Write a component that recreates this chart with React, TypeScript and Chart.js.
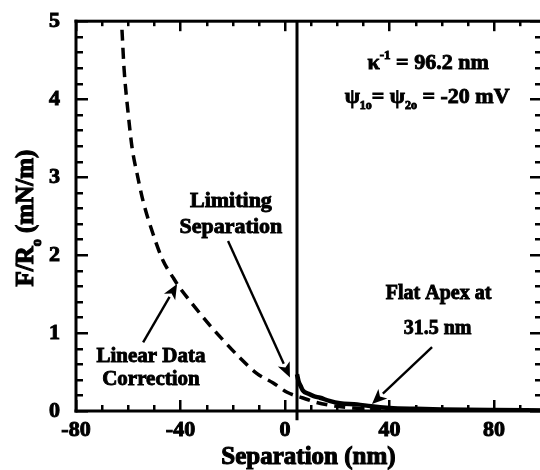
import { useEffect, useRef } from "react";
import { Chart, registerables } from "chart.js";

Chart.register(...registerables);

// Axis tick labels
const xTickValues = [-80, -40, 0, 40, 80];
const yTickValues = [0, 1, 2, 3, 4, 5];

// Hard-wall contact: vertical rise at the limiting separation
const wallX = [4.6, 4.6];
const wallY = [5, -0.12];

// Measured force profile after the contact (solid)
const theoryX = [4.6, 5.2, 6, 6.9, 9, 11, 13.4, 17, 21, 27.6, 33, 40, 50, 60, 80, 98];
const theoryY = [0.47, 0.38, 0.32, 0.26, 0.22, 0.19, 0.17, 0.13, 0.1, 0.085, 0.06, 0.04, 0.028, 0.02, 0.012, 0.008];

// Linear data correction (dashed)
const correctedX = [-62.4, -61.6, -60.1, -58.5, -56.6, -54.3, -50.5, -46.7, -42.8, -40.9, -35.6, -29.8, -23.7, -17.2, -10.7, -4.5, 0.8, 6.6, 12, 20, 30, 45, 70, 98];
const correctedY = [4.89, 4.39, 3.84, 3.37, 3.04, 2.69, 2.27, 1.93, 1.71, 1.61, 1.38, 1.14, 0.91, 0.68, 0.48, 0.36, 0.24, 0.17, 0.11, 0.06, 0.03, 0.015, 0.008, 0.005];

// Minor tick spacing on each axis
const xMinorStep = 10;
const yMinorStep = 0.2;

const SERIF = '"Liberation Serif", "Times New Roman", serif';
const font = (size: number) => `bold ${size}px ${SERIF}`;

type Part = { t: string; size: number; dy?: number };

function drawRich(ctx: CanvasRenderingContext2D, parts: Part[], cx: number, cy: number) {
  let total = 0;
  for (const p of parts) {
    ctx.font = font(p.size);
    total += ctx.measureText(p.t).width;
  }
  let x = cx - total / 2;
  ctx.textAlign = "left";
  ctx.textBaseline = "middle";
  for (const p of parts) {
    ctx.font = font(p.size);
    ctx.fillText(p.t, x, cy + (p.dy || 0));
    ctx.strokeText(p.t, x, cy + (p.dy || 0));
    x += ctx.measureText(p.t).width;
  }
}

function drawArrow(ctx: CanvasRenderingContext2D, x1: number, y1: number, x2: number, y2: number) {
  const ang = Math.atan2(y2 - y1, x2 - x1);
  const head = 15;
  const half = 6.5;
  const bx = x2 - head * Math.cos(ang);
  const by = y2 - head * Math.sin(ang);
  ctx.lineWidth = 2.4;
  ctx.beginPath();
  ctx.moveTo(x1, y1);
  ctx.lineTo(bx, by);
  ctx.stroke();
  ctx.beginPath();
  ctx.moveTo(x2, y2);
  ctx.lineTo(bx + half * Math.sin(ang), by - half * Math.cos(ang));
  ctx.lineTo(x2 - (head - 4) * Math.cos(ang), y2 - (head - 4) * Math.sin(ang));
  ctx.lineTo(bx - half * Math.sin(ang), by + half * Math.cos(ang));
  ctx.closePath();
  ctx.fill();
}

const framePlugin = {
  id: "frame",
  afterDraw(chart: any) {
    const ctx: CanvasRenderingContext2D = chart.ctx;
    const a = chart.chartArea;
    const xs = chart.scales.x;
    const ys = chart.scales.y;
    const X = (v: number) => xs.getPixelForValue(v);
    const Y = (v: number) => ys.getPixelForValue(v);
    const left = a.left;
    const right = a.right;
    const top = a.top;
    const bottom = a.bottom;

    ctx.save();
    ctx.setLineDash([]);
    ctx.globalAlpha = 1;
    ctx.strokeStyle = "#000000";
    ctx.fillStyle = "#000000";

    // Inward tick marks along the bottom and top edges
    const nx = Math.floor((xs.max - xs.min) / xMinorStep + 1e-6);
    for (let i = 0; i <= nx; i++) {
      const v = xs.min + i * xMinorStep;
      const px = Math.round(X(v));
      const major = xTickValues.indexOf(Math.round(v)) >= 0;
      const len = major ? 11 : 6;
      ctx.fillRect(px - 1, bottom - len, 2.5, len);
      ctx.fillRect(px - 1, top, 2.5, major ? 10 : 5);
    }
    // Inward tick marks along the left and right edges
    const ny = Math.round((ys.max - ys.min) / yMinorStep);
    for (let k = 0; k <= ny; k++) {
      const py = Math.round(Y(ys.min + k * yMinorStep));
      const major = k % 5 === 0;
      ctx.fillRect(left, py - 1, major ? 12 : 7, 2.5);
      ctx.fillRect(right - (major ? 11 : 6), py - 1, major ? 11 : 6, 2.5);
    }

    // Plot frame (left, top, bottom)
    ctx.fillRect(left - 1.5, top - 1.5, right - left + 3, 3);
    ctx.fillRect(left - 1.5, bottom - 1.5, right - left + 3, 3);
    ctx.fillRect(left - 1.5, top - 1.5, 3, bottom - top + 3);

    // Axis titles
    ctx.lineWidth = 1.1;
    drawRich(ctx, [{ t: "Separation (nm)", size: 25 }], (left + right) / 2, 458);
    ctx.save();
    ctx.translate(27, (top + bottom) / 2 + 2);
    ctx.rotate(-Math.PI / 2);
    drawRich(ctx, [
      { t: "F/R", size: 25 },
      { t: "o", size: 14, dy: 10 },
      { t: " (mN/m)", size: 25 },
    ], 0, 0);
    ctx.restore();

    // Parameters
    ctx.lineWidth = 0.9;
    drawRich(ctx, [
      { t: "κ", size: 22 },
      { t: "-1", size: 13, dy: -8 },
      { t: " = 96.2 nm", size: 22 },
    ], X(54.8), Y(4.46));
    drawRich(ctx, [
      { t: "ψ", size: 22 },
      { t: "1o", size: 12, dy: 9 },
      { t: "= ψ", size: 22 },
      { t: "2o", size: 12, dy: 9 },
      { t: " = -20 mV", size: 22 },
    ], X(54.4), Y(4.03));

    // Callouts
    drawRich(ctx, [{ t: "Limiting", size: 22 }], X(-20.7), Y(2.69));
    drawRich(ctx, [{ t: "Separation", size: 22 }], X(-20.7), Y(2.36));
    drawArrow(ctx, X(-21.8), Y(2.18), X(1.9), Y(0.43));

    ctx.lineWidth = 0.9;
    drawRich(ctx, [{ t: "Linear Data", size: 21 }], X(-51.3), Y(0.7));
    drawRich(ctx, [{ t: "Correction", size: 21 }], X(-51.3), Y(0.4));
    drawArrow(ctx, X(-54.3), Y(0.88), X(-41.3), Y(1.63));

    ctx.lineWidth = 0.9;
    drawRich(ctx, [{ t: "Flat Apex at", size: 20 }], X(58.8), Y(1.5));
    drawRich(ctx, [{ t: "31.5 nm", size: 20 }], X(58.4), Y(1.06));
    drawArrow(ctx, X(56.3), Y(0.82), X(33.3), Y(0.09));
    ctx.restore();
  },
};

const pts = (xs: number[], ys: number[]) => xs.map((x, i) => ({ x, y: ys[i] }));

export default function App() {
  const ref = useRef<HTMLCanvasElement | null>(null);

  useEffect(() => {
    if (!ref.current) return;
    const tickFont = { family: SERIF, size: 22, weight: "bold" as const };
    const chart = new Chart(ref.current, {
      type: "line",
      data: {
        datasets: [
          {
            data: pts(correctedX, correctedY),
            borderColor: "#000",
            borderWidth: 3.5,
            borderDash: [11, 7],
            pointRadius: 0,
            cubicInterpolationMode: "monotone",
            fill: false,
          },
          {
            data: pts(wallX, wallY),
            borderColor: "#000",
            borderWidth: 3,
            pointRadius: 0,
            clip: false,
            fill: false,
          },
          {
            data: pts(theoryX, theoryY),
            borderColor: "#000",
            borderWidth: 4.5,
            pointRadius: 0,
            cubicInterpolationMode: "monotone",
            fill: false,
          },
        ],
      },
      options: {
        animation: false,
        responsive: false,
        events: [],
        layout: { padding: { top: 19, right: 4, left: 0, bottom: 0 } },
        plugins: { legend: { display: false }, tooltip: { enabled: false } },
        scales: {
          x: {
            type: "linear",
            min: -80,
            max: 98,
            afterBuildTicks: (s: any) => {
              s.ticks = xTickValues.map((v) => ({ value: v }));
            },
            afterFit: (s: any) => {
              s.height = 59;
            },
            grid: { display: false, drawTicks: false },
            border: { display: false },
            ticks: {
              font: tickFont,
              color: "#000",
              padding: 6,
              maxRotation: 0,
              autoSkip: false,
              textStrokeColor: "#000",
              textStrokeWidth: 1,
            },
          },
          y: {
            type: "linear",
            min: 0,
            max: 5,
            afterBuildTicks: (s: any) => {
              s.ticks = yTickValues.map((v) => ({ value: v }));
            },
            afterFit: (s: any) => {
              s.width = 76;
            },
            grid: { display: false },
            border: { display: false },
            ticks: {
              font: tickFont,
              color: "#000",
              padding: 8,
              autoSkip: false,
              textStrokeColor: "#000",
              textStrokeWidth: 1,
            },
          },
        },
      },
      plugins: [framePlugin],
    });
    return () => chart.destroy();
  }, []);

  return (
    <div
      style={{
        position: "fixed",
        left: 0,
        top: 0,
        width: 540,
        height: 470,
        overflow: "hidden",
        background: "#fff",
      }}
    >
      <canvas ref={ref} width={545} height={470} style={{ width: 545, height: 470, display: "block" }} />
    </div>
  );
}
